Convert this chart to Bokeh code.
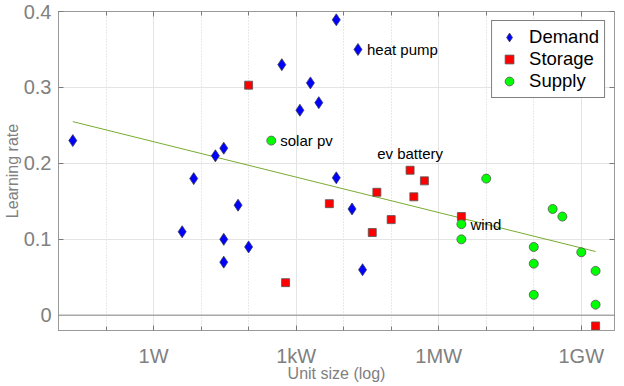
from bokeh.plotting import figure
from bokeh.models import (FixedTicker, CustomJSTickFormatter, LogAxis, LinearAxis,
                          Span, Range1d)
from bokeh.core.properties import value
from bokeh.embed import file_html
from bokeh.resources import INLINE

# ---------------- data ----------------
demand_size = [0.02, 4, 7, 20, 30, 30, 30, 60, 100, 500, 2000, 1200, 3000, 7000,
               20000, 7000, 15000, 25000]
demand_rate = [0.230, 0.110, 0.180, 0.210, 0.220, 0.100, 0.070, 0.145, 0.090, 0.330,
               0.306, 0.270, 0.280, 0.389, 0.350, 0.181, 0.140, 0.060]

storage_size = [100, 600, 5000, 50000, 40000, 100000, 250000, 300000, 500000, 3e6, 2e9]
storage_rate = [0.303, 0.043, 0.147, 0.162, 0.109, 0.126, 0.191, 0.156, 0.177, 0.130,
                -0.014]

supply_size = [300, 1e7, 3e6, 3e6, 1e8, 1e8, 1e8, 2.5e8, 4e8, 1e9, 2e9, 2e9]
supply_rate = [0.230, 0.180, 0.120, 0.100, 0.090, 0.068, 0.027, 0.140, 0.130, 0.083,
               0.0585, 0.014]

trend_size = [0.02, 2e9]
trend_rate = [0.255, 0.084]

label_text = ["heat pump", "solar pv", "wind"]
label_size = [20000, 300, 3e6]
label_rate = [0.350, 0.230, 0.120]

top_label_text = ["ev battery"]
top_label_size = [250000]
top_label_rate = [0.191]

x_major = [1, 1e3, 1e6, 1e9]
x_minor = [10.0 ** k for k in range(-2, 10)]
y_ticks = [0, 0.1, 0.2, 0.3, 0.4]

FONT = "Liberation Sans"
GRAY = "#808080"

p = figure(frame_width=556, frame_height=319, x_axis_type="log",
           x_range=Range1d(1e-2, 5e9), y_range=Range1d(-0.02, 0.4),
           output_backend="svg", toolbar_location=None,
           min_border_left=0, min_border_right=2, min_border_top=11,
           min_border_bottom=0)

p.outline_line_color = "#9a9a9a"
p.background_fill_color = "white"
p.border_fill_color = "white"

xticker = FixedTicker(ticks=x_major, minor_ticks=x_minor)
yticker = FixedTicker(ticks=y_ticks, minor_ticks=[])

xfmt = CustomJSTickFormatter(code="""
const e = Math.round(Math.log10(tick));
const m = {0: "1W", 3: "1kW", 6: "1MW", 9: "1GW"};
return (e in m) ? m[e] : "";
""")
yfmt = CustomJSTickFormatter(code="""
return Math.abs(tick) < 1e-9 ? "0" : tick.toFixed(1);
""")
blank = CustomJSTickFormatter(code='return "";')

for ax in p.xaxis:
    ax.ticker = xticker
    ax.formatter = xfmt
for ax in p.yaxis:
    ax.ticker = yticker
    ax.formatter = yfmt

def style_axis(ax, labels=True):
    ax.axis_line_color = "#9a9a9a"
    ax.major_tick_line_color = "#7a7a7a"
    ax.minor_tick_line_color = "#7a7a7a"
    ax.major_tick_in = 5
    ax.major_tick_out = 0
    ax.minor_tick_in = 4
    ax.minor_tick_out = 0
    if labels:
        ax.major_label_text_font = FONT
        ax.major_label_text_font_size = "20px"
        ax.major_label_text_color = GRAY
        ax.axis_label_text_font = FONT
        ax.axis_label_text_font_size = "16px"
        ax.axis_label_text_font_style = "normal"
        ax.axis_label_text_color = GRAY
    else:
        ax.formatter = blank
        ax.major_label_text_font_size = "1px"
        ax.major_label_standoff = 0

style_axis(p.xaxis[0])
style_axis(p.yaxis[0])
p.xaxis[0].axis_label = "Unit size (log)"
p.yaxis[0].axis_label = "Learning rate"
p.xaxis[0].major_label_standoff = 14
p.xaxis[0].axis_label_standoff = -5
p.yaxis[0].major_label_standoff = 7
p.yaxis[0].axis_label_standoff = 0
p.yaxis[0].minor_tick_in = 0

top_ax = LogAxis(ticker=xticker)
style_axis(top_ax, labels=False)
p.add_layout(top_ax, "above")
right_ax = LinearAxis(ticker=yticker)
style_axis(right_ax, labels=False)
right_ax.minor_tick_in = 0
p.add_layout(right_ax, "right")

p.xgrid.ticker = xticker
p.xgrid.grid_line_color = "#e4e4e4"
p.xgrid.minor_grid_line_color = "#d2d2d2"
p.xgrid.minor_grid_line_dash = "1 2"
p.ygrid.ticker = yticker
p.ygrid.grid_line_color = "#e4e4e4"

p.add_layout(Span(location=0, dimension="width", line_color="#a8a8a8", line_width=1.5))

p.line(trend_size, trend_rate, line_color="#77AC30", line_width=1)

p.scatter(demand_size, demand_rate, marker="diamond", size=12, fill_color="#0000FF",
          line_color="#3a3a5a", line_width=0.8, legend_label="Demand")
p.scatter(storage_size, storage_rate, marker="square", size=8, fill_color="#FF0000",
          line_color="#555555", line_width=0.8, legend_label="Storage")
p.scatter(supply_size, supply_rate, marker="circle", size=9, fill_color="#00FF00",
          line_color="#555555", line_width=0.8, legend_label="Supply")

p.text(label_size, label_rate, text=label_text, x_offset=9, text_baseline="middle",
       text_align="left", text_font=value(FONT), text_font_size="15px",
       text_color="black")
p.text(top_label_size, top_label_rate, text=top_label_text, y_offset=-17,
       text_baseline="middle", text_align="center", text_font=value(FONT),
       text_font_size="15px", text_color="black")

lg = p.legend[0]
lg.location = "top_right"
lg.margin = 9
lg.padding = 5
lg.spacing = 0
lg.label_height = 22
lg.glyph_width = 24
lg.glyph_height = 22
lg.label_standoff = 8
lg.label_text_font = FONT
lg.label_text_font_size = "18.5px"
lg.label_text_color = "black"
lg.border_line_color = "black"
lg.border_line_width = 1
lg.background_fill_alpha = 1

open("out.html", "w").write(file_html(p, INLINE))
